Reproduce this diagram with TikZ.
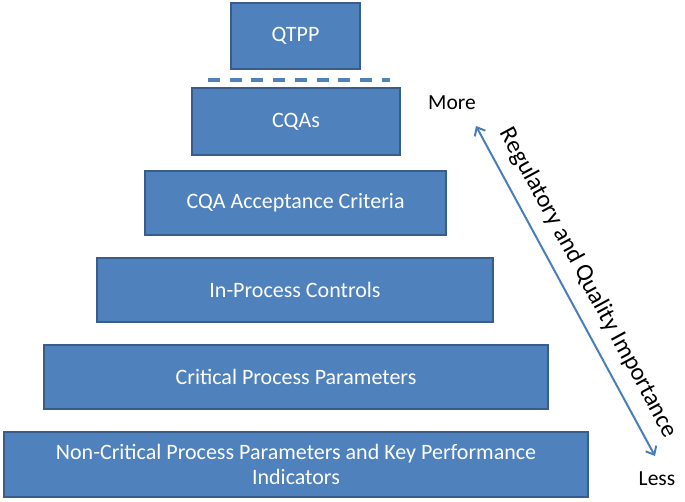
\documentclass[tikz,border=0pt]{standalone}
\usepackage{fontspec}
\setmainfont{Carlito}
\usepackage{tikz}
\usetikzlibrary{positioning,arrows.meta}
\definecolor{tierfill}{HTML}{4F81BD}
\definecolor{tierborder}{HTML}{385D8A}
\definecolor{arrowblue}{HTML}{4A7EBB}
\tikzset{
  tier/.style={rectangle, draw=tierborder, fill=tierfill, line width=1.5pt, text=white,
               minimum height=64pt, inner sep=2pt, align=center, font=\fontsize{22}{25}\selectfont},
  endlabel/.style={font=\fontsize{21.5}{24}\selectfont, inner sep=0pt},
  importance/.style={<->, draw=arrowblue, line width=2pt, >={Straight Barb[length=7pt,width=12pt]}},
  divider/.style={draw=tierfill, line width=3.5pt, dash pattern=on 12pt off 9.7pt},
}

\begin{document}
\begin{tikzpicture}[x=1pt, y=-1pt]
  \useasboundingbox (0,0) rectangle (685,501);

  \node[tier, minimum width=129pt, minimum height=66pt] (qtpp) at (295.5,36) {QTPP};
  \node[tier, minimum width=208pt, minimum height=67pt] (cqas) at (296,121.5) {CQAs};
  \node[tier, minimum width=301pt] (criteria) at (295.5,203) {CQA Acceptance Criteria};
  \node[tier, minimum width=396pt] (ipc) at (295,290) {In-Process Controls};
  \node[tier, minimum width=504pt] (cpp) at (296,377) {Critical Process Parameters};
  \node[tier, minimum width=584pt, minimum height=65pt] (ncpp) at (296,464.5)
    {Non-Critical Process Parameters and Key Performance\\Indicators};

  % dashed separator between QTPP and CQAs
  \coordinate (sepL) at (208,80);
  \coordinate (sepR) at (390,80);
  \draw[divider] (sepL) -- (sepR);

  \node[endlabel] (more) at (452,103) {More};
  \node[endlabel] (less) at (657,479) {Less};
  \coordinate (moretip) at (476,126);
  \coordinate (lesstip) at (655,456);

  \draw[importance] (moretip) -- (lesstip)
    node[pos=0.51, sloped, above=9pt, font=\fontsize{24.5}{28}\selectfont] (axis) {Regulatory and Quality Importance};
\end{tikzpicture}
\end{document}
